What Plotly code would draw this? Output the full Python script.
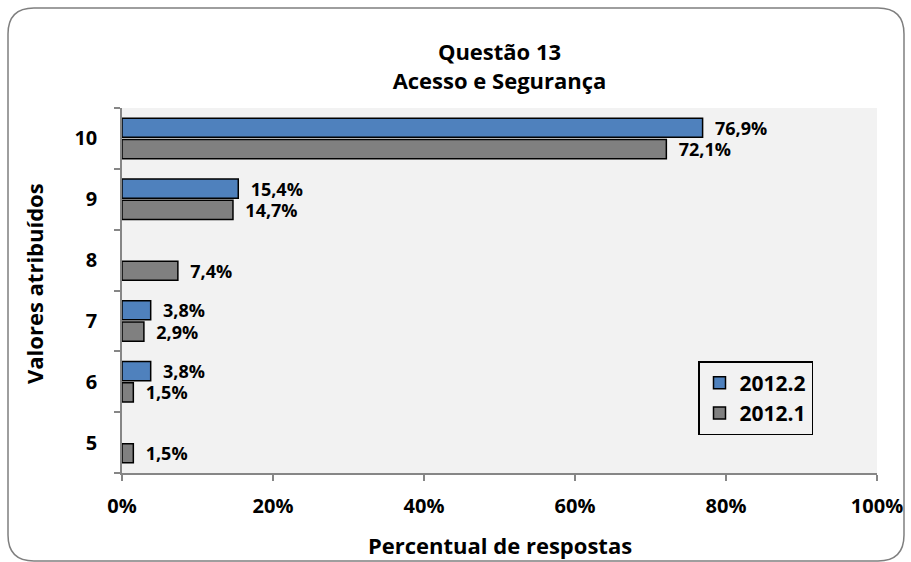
import plotly.graph_objects as go

categorias = ["5", "6", "7", "8", "9", "10"]
valores_2012_2 = [None, 3.8, 3.8, None, 15.4, 76.9]
valores_2012_1 = [1.5, 1.5, 2.9, 7.4, 14.7, 72.1]
x_ticks = [0, 20, 40, 60, 80, 100]
x_ticklabels = ["0%", "20%", "40%", "60%", "80%", "100%"]

W, H = 911, 562
L, R, T, B = 122, 34, 108, 89
PW, PH = W - L - R, H - T - B
FONT = "Open Sans"


def to_paper(x, y):
    return (x - L) / PW, (H - B - y) / PH


def rounded_path(x0, y0, x1, y1, r):
    pts = [
        ("M", [(x0 + r, y0)]), ("L", [(x1 - r, y0)]), ("Q", [(x1, y0), (x1, y0 + r)]),
        ("L", [(x1, y1 - r)]), ("Q", [(x1, y1), (x1 - r, y1)]), ("L", [(x0 + r, y1)]),
        ("Q", [(x0, y1), (x0, y1 - r)]), ("L", [(x0, y0 + r)]), ("Q", [(x0, y0), (x0 + r, y0)]),
    ]
    out = []
    for cmd, ps in pts:
        coords = " ".join("%.5f,%.5f" % to_paper(px, py) for px, py in ps)
        out.append(cmd + " " + coords)
    return " ".join(out) + " Z"


def rotulos(vals):
    return ["\u00a0\u00a0" + ("%.1f%%" % v).replace(".", ",") if v is not None else "" for v in vals]


fig = go.Figure()

# gray first so blue sits on top in each group
fig.add_trace(go.Bar(
    y=categorias, x=valores_2012_1, name="2012.1", orientation="h",
    marker=dict(color="#808080", line=dict(color="black", width=1.5)),
    text=rotulos(valores_2012_1), textposition="outside", cliponaxis=False,
    constraintext="none",
    textfont=dict(family=FONT, size=18, color="black", weight="bold"),
    legendrank=2,
))
fig.add_trace(go.Bar(
    y=categorias, x=valores_2012_2, name="2012.2", orientation="h",
    marker=dict(color="#4F81BD", line=dict(color="black", width=1.5)),
    text=rotulos(valores_2012_2), textposition="outside", cliponaxis=False,
    constraintext="none",
    textfont=dict(family=FONT, size=18, color="black", weight="bold"),
    legendrank=1,
))

fig.update_layout(
    width=W, height=H,
    margin=dict(l=L, r=R, t=T, b=B, autoexpand=False),
    paper_bgcolor="white",
    plot_bgcolor="#F2F2F2",
    barmode="group",
    bargap=0.3,
    bargroupgap=0.1,
    font=dict(family=FONT, color="black"),
    title=dict(
        text="<b>Questão 13</b><br><b>Acesso e Segurança</b>",
        x=0.5, xref="paper", xanchor="center",
        y=(H - 60) / H, yanchor="middle",
        font=dict(family=FONT, size=22, color="black"),
    ),
    xaxis=dict(
        range=[0, 100], tickvals=x_ticks, ticktext=x_ticklabels,
        showgrid=False, zeroline=False,
        showline=True, linecolor="#868686", linewidth=1.5,
        ticks="outside", ticklen=6, tickcolor="#868686", tickwidth=1.5,
        tickfont=dict(family=FONT, size=20, color="black", weight="bold"),
        ticklabelstandoff=8,
        fixedrange=True,
    ),
    yaxis=dict(
        type="category", categoryorder="array", categoryarray=categorias,
        showgrid=False, zeroline=False,
        showline=True, linecolor="#868686", linewidth=1.5,
        ticks="outside", ticklen=6, tickcolor="#868686", tickwidth=1.5,
        tickson="boundaries",
        tickfont=dict(family=FONT, size=20, color="black", weight="bold"),
        ticklabelstandoff=19,
        fixedrange=True,
    ),
    legend=dict(
        x=to_paper(698, 0)[0], y=to_paper(0, 361)[1],
        xanchor="left", yanchor="top",
        bgcolor="#F2F2F2", bordercolor="black", borderwidth=1.5,
        font=dict(family=FONT, size=21, color="black", weight="bold"),
        traceorder="normal",
        itemwidth=30,
    ),
    annotations=[
        dict(text="<b>Percentual de respostas</b>", xref="paper", yref="paper",
             x=to_paper(500, 0)[0], y=to_paper(0, 545)[1], showarrow=False,
             xanchor="center", yanchor="middle",
             font=dict(family=FONT, size=22, color="black")),
        dict(text="<b>Valores atribuídos</b>", xref="paper", yref="paper",
             x=to_paper(34, 0)[0], y=to_paper(0, 284)[1], showarrow=False,
             textangle=-90, xanchor="center", yanchor="middle",
             font=dict(family=FONT, size=22, color="black")),
    ],
    shapes=[
        dict(type="path", xref="paper", yref="paper", layer="below",
             path=rounded_path(8, 8, 904, 561, 26),
             line=dict(color="#7F7F7F", width=1.5)),
    ],
)

fig.write_html("out.html", config={"displayModeBar": False},
               post_script="document.body.style.margin='0';")
